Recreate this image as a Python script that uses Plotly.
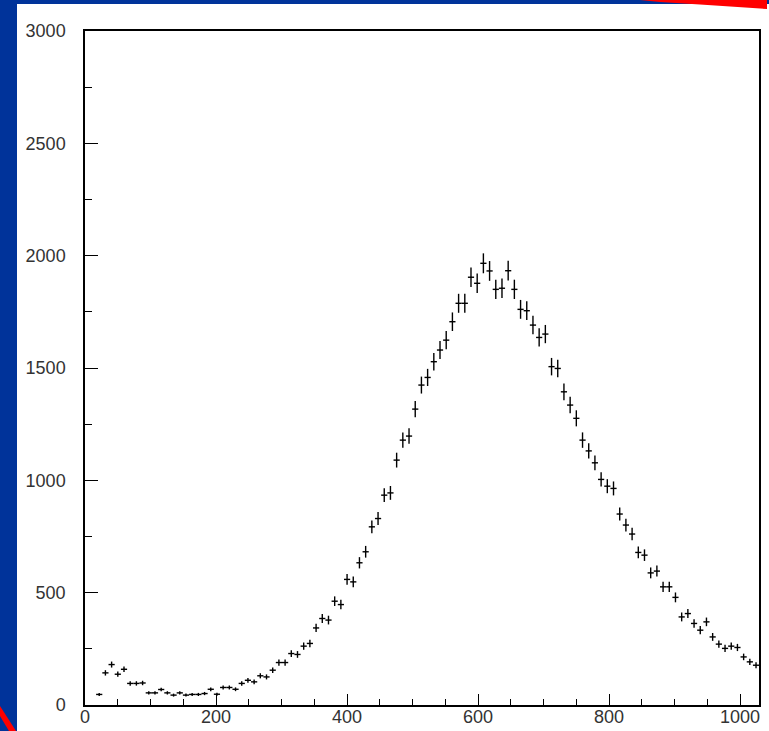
import numpy as np
import plotly.graph_objects as go

# ---- data ----
first_center = 21.7
bin_width = 9.46
counts = [
    47, 143, 180, 137, 159, 96, 96, 98, 54, 54, 69, 54, 44, 54, 44, 47, 47, 51, 70, 48,
    78, 78, 70, 96, 110, 103, 130,
    125, 155, 189, 189, 229, 225, 262, 274, 343, 385, 378, 462, 447, 559, 548, 633, 682,
    793, 830, 934, 944, 1090, 1179, 1197, 1317, 1424, 1458,
    1528, 1580, 1624, 1706, 1788, 1788, 1904, 1877, 1966, 1932, 1850, 1855, 1933, 1850,
    1761, 1755, 1691, 1636, 1651, 1506, 1498, 1394, 1335, 1276, 1179, 1131, 1078,
    1004, 974, 964, 850, 801, 761, 679, 667, 588, 596, 526, 526, 479, 392, 407, 363, 333,
    370, 303, 271, 252, 262, 256, 214, 192, 177,
]
x_ticks = [0, 200, 400, 600, 800, 1000]
y_ticks = [0, 500, 1000, 1500, 2000, 2500, 3000]

counts = np.array(counts, dtype=float)
centers = first_center + bin_width * np.arange(len(counts))
y_err = np.sqrt(counts)

W, H = 769, 731
ML, MR, MT, MB = 85, 10, 31, 26
PW, PH = W - ML - MR, H - MT - MB


def px(xp):
    return (xp - ML) / PW


def py(yp):
    return (H - MB - yp) / PH


fig = go.Figure()
fig.add_trace(go.Scatter(
    x=centers, y=counts, mode="markers",
    marker=dict(size=1, color="black"),
    error_x=dict(type="constant", value=bin_width / 2, width=0, thickness=1.4, color="black"),
    error_y=dict(type="data", array=y_err, width=0, thickness=1.4, color="black"),
    showlegend=False, hoverinfo="skip",
))

shapes = [
    # white slide panel
    dict(type="rect", xref="paper", yref="paper", layer="below",
         x0=px(17), x1=px(W + 2), y0=py(H + 2), y1=py(4),
         fillcolor="white", line=dict(width=0)),
    # red stripe top-right
    dict(type="path", xref="paper", yref="paper", layer="above",
         path=f"M {px(640)},{py(0)} L {px(767)},{py(0)} L {px(767)},{py(9)} L {px(700)},{py(4.5)} L {px(660)},{py(2)} Z",
         fillcolor="#ff0000", line=dict(width=0)),
    # red stripe bottom-left
    dict(type="path", xref="paper", yref="paper", layer="above",
         path=f"M {px(0)},{py(706)} L {px(16)},{py(731)} L {px(9)},{py(731)} L {px(0)},{py(716)} Z",
         fillcolor="#ff0000", line=dict(width=0)),
]

font = dict(family="Liberation Sans, Arial, sans-serif", size=18, color="#333333")

fig.update_layout(
    width=W, height=H, autosize=False,
    margin=dict(l=ML, r=MR, t=MT, b=MB, pad=0, autoexpand=False),
    paper_bgcolor="#00339a",
    plot_bgcolor="white",
    shapes=shapes,
    font=font,
    xaxis=dict(
        range=[0, 1029], tickvals=x_ticks, ticks="inside", ticklen=11, tickwidth=1.2,
        tickcolor="black", showgrid=False, zeroline=False, showline=True,
        linecolor="black", linewidth=1.5, mirror=True, tickfont=font,
        ticklabelstandoff=-5, automargin=False,
        minor=dict(dtick=50, ticks="inside", ticklen=6.5, tickwidth=1.2, tickcolor="black", showgrid=False),
    ),
    yaxis=dict(
        range=[0, 3000], tickvals=y_ticks, ticks="inside", ticklen=13, tickwidth=1.2,
        tickcolor="black", showgrid=False, zeroline=False, showline=True,
        linecolor="black", linewidth=1.5, mirror=True, tickfont=font,
        ticklabelstandoff=14, automargin=False,
        minor=dict(dtick=250, ticks="inside", ticklen=7, tickwidth=1.2, tickcolor="black", showgrid=False),
    ),
)

fig.write_html(
    "out.html",
    config={"displayModeBar": False},
    post_script="document.body.style.margin='0';document.body.style.overflow='hidden';",
)
